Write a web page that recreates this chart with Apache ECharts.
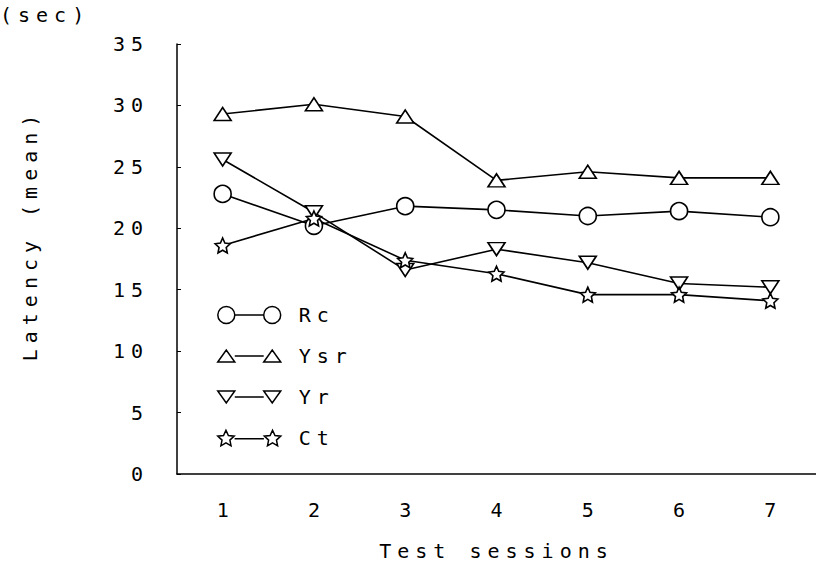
<!DOCTYPE html>
<html>
<head>
<meta charset="utf-8">
<script src="https://cdn.jsdelivr.net/npm/echarts@6/dist/echarts.min.js"></script>
<style>
html, body { margin: 0; padding: 0; background: #fff; }
#main { width: 816px; height: 569px; }
#main text { letter-spacing: 6px; }
</style>
</head>
<body>
<div id="main"></div>
<script>
// data
var sessions = ['1', '2', '3', '4', '5', '6', '7'];
var rcValues = [22.8, 20.2, 21.8, 21.5, 21.0, 21.4, 20.9];
var ysrValues = [29.3, 30.1, 29.1, 23.9, 24.6, 24.1, 24.1];
var yrValues = [25.6, 21.3, 16.6, 18.3, 17.2, 15.5, 15.2];
var ctValues = [18.6, 20.8, 17.4, 16.3, 14.6, 14.6, 14.1];
var yTicks = { min: 0, max: 35, step: 5 };

var FONT = '"DejaVu Sans Mono", "Liberation Mono", monospace';

var starPath = 'path://M5,0 L6.41,3.06 L9.76,3.46 L7.28,5.74 L7.94,9.05 L5,7.4 L2.06,9.05 L2.72,5.74 L0.24,3.46 L3.59,3.06 Z';
var downPath = 'path://M0,0 L10,0 L5,8 Z';

// legend icons: symbol -- line -- symbol
function circleShape(dx) {
    return 'M' + dx + ',5 A5,5 0 1,1 ' + (dx + 10) + ',5 A5,5 0 1,1 ' + dx + ',5 Z ';
}
function upShape(dx) {
    return 'M' + dx + ',8.5 L' + (dx + 5) + ',1.5 L' + (dx + 10) + ',8.5 Z ';
}
function downShape(dx) {
    return 'M' + dx + ',1.5 L' + (dx + 10) + ',1.5 L' + (dx + 5) + ',8.5 Z ';
}
var starPts = [[5, 0], [6.41, 3.06], [9.76, 3.46], [7.28, 5.74], [7.94, 9.05], [5, 7.4], [2.06, 9.05], [2.72, 5.74], [0.24, 3.46], [3.59, 3.06]];
function starShape(dx) {
    var s = '';
    for (var i = 0; i < starPts.length; i++) {
        s += (i == 0 ? 'M' : 'L') + (starPts[i][0] + dx) + ',' + starPts[i][1] + ' ';
    }
    return s + 'Z ';
}
function legendIcon(shape) {
    return 'path://' + shape(0) + 'M10,5 L27,5 ' + shape(27);
}

function lineSeries(name, values, symbol, size) {
    return {
        name: name,
        type: 'line',
        data: values,
        symbol: symbol,
        symbolSize: size,
        showAllSymbol: true,
        lineStyle: { color: '#000', width: 1.6 },
        itemStyle: { color: '#fff', borderColor: '#000', borderWidth: 1.6 },
        emphasis: { disabled: true },
        z: 3
    };
}

var myChart = echarts.init(document.getElementById('main'), null, { renderer: 'svg' });
var option = {
    animation: false,
    backgroundColor: '#fff',
    textStyle: { fontFamily: FONT, color: '#000' },
    grid: { left: 177, top: 44, width: 641, height: 430 },
    legend: {
        orient: 'vertical',
        left: 217,
        top: 305,
        padding: 0,
        itemWidth: 63,
        itemHeight: 17,
        itemGap: 21,
        selectedMode: false,
        itemStyle: { color: '#fff', borderColor: '#000', borderWidth: 1.5 },
        textStyle: { fontFamily: FONT, fontSize: 20, color: '#000', padding: [0, 0, 0, 13] },
        data: [
            { name: 'Rc', icon: legendIcon(circleShape) },
            { name: 'Ysr', icon: legendIcon(upShape) },
            { name: 'Yr', icon: legendIcon(downShape) },
            { name: 'Ct', icon: legendIcon(starShape) }
        ]
    },
    xAxis: {
        type: 'category',
        data: sessions,
        boundaryGap: true,
        name: 'Test sessions',
        nameLocation: 'middle',
        nameGap: 67,
        nameTextStyle: { fontFamily: FONT, fontSize: 20, color: '#000' },
        axisLine: { lineStyle: { color: '#000', width: 1.5 } },
        axisTick: { inside: true, length: 3, alignWithLabel: true, lineStyle: { color: '#000' } },
        axisLabel: { fontFamily: FONT, fontSize: 20, color: '#000', margin: 26, padding: [0, 0, 0, 6] },
        splitLine: { show: false }
    },
    yAxis: {
        type: 'value',
        min: yTicks.min,
        max: yTicks.max,
        interval: yTicks.step,
        axisLine: { show: true, lineStyle: { color: '#000', width: 1.5 } },
        axisTick: { show: true, inside: true, length: 4, lineStyle: { color: '#000' } },
        axisLabel: { fontFamily: FONT, fontSize: 20, color: '#000', margin: 28 },
        splitLine: { show: false }
    },
    graphic: [
        {
            type: 'text', left: 0, top: 5,
            style: { text: '(sec)', font: '20px ' + FONT, fill: '#000' }
        },
        {
            type: 'text', x: 30, y: 235, rotation: Math.PI / 2,
            style: { text: 'Latency (mean)', font: '20px ' + FONT, fill: '#000', align: 'center', verticalAlign: 'middle' }
        }
    ],
    series: [
        lineSeries('Ysr', ysrValues, 'triangle', [17, 13]),
        lineSeries('Rc', rcValues, 'circle', 17),
        lineSeries('Yr', yrValues, downPath, [17, 13]),
        lineSeries('Ct', ctValues, starPath, 15)
    ]
};
myChart.setOption(option);
</script>
</body>
</html>
